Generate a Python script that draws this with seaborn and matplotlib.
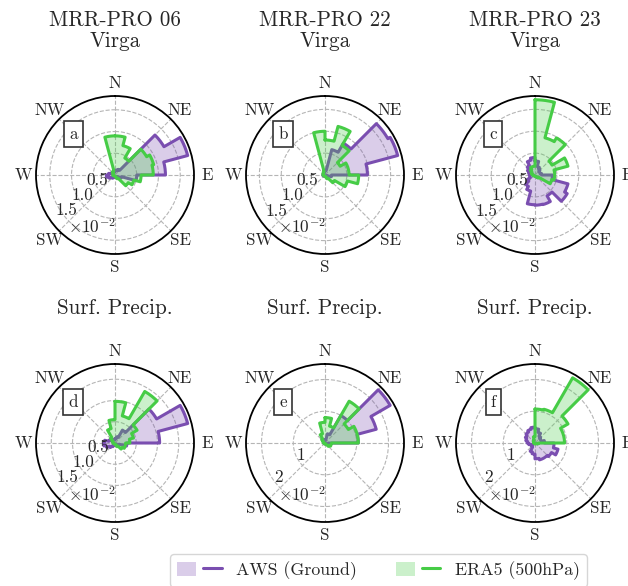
import numpy as np
import pandas as pd
import matplotlib
matplotlib.use("Agg")
import matplotlib.pyplot as plt
import seaborn as sns
from matplotlib.patches import Patch
from matplotlib.lines import Line2D
from matplotlib.legend_handler import HandlerTuple

# ---------------- data (frequency per direction bin, units of 1e-2) ----------------
bin_width_deg = 15  # 24 bins, first bin 0-15 deg (clockwise from N)
compass_labels = ["N", "NE", "E", "SE", "S", "SW", "W", "NW"]
panel_letters = ["a", "b", "c", "d", "e", "f"]
panel_titles = ["MRR-PRO 06\nVirga", "MRR-PRO 22\nVirga", "MRR-PRO 23\nVirga",
                "Surf. Precip.", "Surf. Precip.", "Surf. Precip."]
series_names = ["AWS (Ground)", "ERA5 (500hPa)"]

aws_a = [0.10, 0.12, 0.15, 1.30, 1.73, 1.16, 0.50, 0.15, 0.08, 0.05, 0.04, 0.04,
         0.05, 0.06, 0.08, 0.10, 0.15, 0.20, 0.15, 0.10, 0.08, 0.08, 0.08, 0.08]
era_a = [0.90, 0.70, 0.45, 0.84, 0.92, 0.88, 0.60, 0.45, 0.35, 0.10, 0.05, 0.03,
         0.03, 0.03, 0.03, 0.03, 0.03, 0.05, 0.05, 0.05, 0.05, 0.08, 0.10, 0.90]

aws_b = [0.10, 0.60, 0.84, 1.66, 1.72, 0.97, 0.15, 0.06, 0.04, 0.03, 0.03, 0.03,
         0.03, 0.03, 0.03, 0.03, 0.04, 0.05, 0.05, 0.05, 0.05, 0.05, 0.06, 0.08]
era_b = [0.80, 1.15, 0.78, 0.40, 0.55, 0.55, 0.77, 0.53, 0.25, 0.10, 0.05, 0.03,
         0.03, 0.03, 0.03, 0.03, 0.03, 0.03, 0.05, 0.05, 0.05, 0.06, 0.08, 1.00]

aws_c = [0.32, 0.20, 0.16, 0.12, 0.12, 0.15, 0.40, 0.78, 0.85, 0.55, 0.70, 0.69,
         0.68, 0.38, 0.30, 0.20, 0.12, 0.12, 0.13, 0.15, 0.20, 0.25, 0.35, 0.40]
era_c = [1.72, 0.88, 0.98, 0.45, 0.78, 0.45, 0.45, 0.40, 0.10, 0.05, 0.03, 0.03,
         0.03, 0.03, 0.03, 0.03, 0.03, 0.05, 0.05, 0.08, 0.10, 0.15, 0.20, 0.20]

aws_d = [0.10, 0.15, 0.35, 1.13, 1.77, 1.05, 0.28, 0.10, 0.05, 0.03, 0.03, 0.03,
         0.03, 0.05, 0.10, 0.15, 0.22, 0.27, 0.25, 0.15, 0.10, 0.08, 0.08, 0.08]
era_d = [0.98, 0.66, 1.40, 0.60, 0.45, 0.35, 0.25, 0.25, 0.20, 0.10, 0.05, 0.03,
         0.03, 0.03, 0.03, 0.03, 0.03, 0.03, 0.05, 0.05, 0.08, 0.15, 0.35, 0.55]

aws_e = [0.10, 0.30, 1.00, 2.37, 1.67, 1.05, 0.10, 0.05, 0.03, 0.03, 0.03, 0.03,
         0.03, 0.03, 0.03, 0.03, 0.03, 0.03, 0.05, 0.05, 0.05, 0.05, 0.05, 0.08]
era_e = [0.80, 0.55, 1.52, 0.85, 1.05, 1.05, 0.20, 0.20, 0.15, 0.05, 0.03, 0.03,
         0.03, 0.03, 0.03, 0.03, 0.03, 0.03, 0.05, 0.05, 0.08, 0.15, 0.30, 0.65]

aws_f = [0.45, 0.35, 0.25, 0.20, 0.20, 0.30, 0.60, 0.75, 0.60, 0.55, 0.55, 0.50,
         0.35, 0.30, 0.15, 0.10, 0.15, 0.20, 0.25, 0.30, 0.35, 0.40, 0.45, 0.50]
era_f = [1.07, 1.10, 2.37, 1.20, 0.93, 0.93, 0.10, 0.05, 0.03, 0.03, 0.03, 0.03,
         0.03, 0.03, 0.03, 0.03, 0.03, 0.03, 0.03, 0.05, 0.05, 0.08, 0.10, 0.20]

aws_all = [aws_a, aws_b, aws_c, aws_d, aws_e, aws_f]
era_all = [era_a, era_b, era_c, era_d, era_e, era_f]

rticks_small = [0.5, 1.0, 1.5]
rticklabels_small = ["0.5", "1.0", "1.5"]
rticks_large = [1, 2]
rticklabels_large = ["1", "2"]
offset_label = r"$\times10^{-2}$"
rlabel_angle_deg = 225

# ---------------- style ----------------
sns.set_theme(style="white")
plt.rcParams["font.family"] = ["cmr10", "DejaVu Serif"]
plt.rcParams["mathtext.fontset"] = "cm"
plt.rcParams["axes.unicode_minus"] = False
plt.rcParams["axes.formatter.use_mathtext"] = True

c_aws = "#7a4eb0"
c_era = "#46cc46"
fill_alpha = 0.28
lw = 2.2
fs_tick = 12.3
fs_title = 15.2

W, H = 628, 586
fig = plt.figure(figsize=(W / 100, H / 100), dpi=100)

centers_x = [115, 325, 535]
centers_y = [175, 443]
R = 79


def step_outline(values):
    edges = np.deg2rad(np.arange(0, 360 + bin_width_deg, bin_width_deg))
    th, rr = [], []
    for i, v in enumerate(values):
        t = np.linspace(edges[i], edges[i + 1], 12)
        th.extend(t)
        rr.extend([v] * len(t))
    th.append(edges[-1])
    rr.append(values[0])
    return np.array(th), np.array(rr)


for k in range(6):
    row, col = divmod(k, 3)
    cx, cy = centers_x[col], centers_y[row]
    ax = fig.add_axes([(cx - R) / W, 1 - (cy + R) / H, 2 * R / W, 2 * R / H],
                      projection="polar")
    ax.set_theta_zero_location("N")
    ax.set_theta_direction(-1)

    for vals, col_, z in [(aws_all[k], c_aws, 2), (era_all[k], c_era, 3)]:
        th, rr = step_outline(vals)
        df = pd.DataFrame({"theta": th, "r": rr})
        ax.fill(df["theta"], df["r"], color=col_, alpha=fill_alpha, lw=0, zorder=z)
        sns.lineplot(data=df, x="theta", y="r", sort=False, estimator=None,
                     ax=ax, color=col_, linewidth=lw, zorder=z + 0.5)

    ax.set_xlabel("")
    ax.set_ylabel("")
    vmax = max(max(aws_all[k]), max(era_all[k]))
    ax.set_ylim(0, vmax * 1.05)
    if k < 4:
        rt, rl = rticks_small, rticklabels_small
    else:
        rt, rl = rticks_large, rticklabels_large
    ax.set_yticks(rt)
    ax.set_yticklabels([])
    for rv, lab in zip(rt, rl):
        ax.annotate(lab, xy=(np.deg2rad(rlabel_angle_deg), rv), xytext=(-1.5, 2),
                    textcoords="offset points", ha="center", va="bottom",
                    fontsize=fs_tick, zorder=6)

    ax.set_xticks(np.deg2rad(np.arange(0, 360, 45)))
    ax.set_xticklabels(compass_labels, fontsize=fs_tick)
    ax.tick_params(axis="x", pad=-3.6)
    ax.grid(True, linestyle="--", color="#b5b5b5", linewidth=0.8)
    ax.spines["polar"].set_color("black")
    ax.spines["polar"].set_linewidth(1.3)

    ax.text(0.354, 0.171, offset_label, transform=ax.transAxes, ha="center",
            va="center", fontsize=fs_tick, zorder=6)
    ax.text(0.236, 0.758, panel_letters[k], transform=ax.transAxes, ha="center",
            va="center", fontsize=fs_tick, zorder=6,
            bbox=dict(boxstyle="square,pad=0.3", fc="white", ec="#333333", lw=1.2))

    if row == 0:
        ax.set_title(panel_titles[k], y=(cy + R - 31) / (2 * R), pad=0,
                     va="center", fontsize=fs_title, linespacing=1.1)
    else:
        ax.set_title(panel_titles[k], y=(cy + R - 308) / (2 * R), pad=0,
                     va="center", fontsize=fs_title)

handles = [
    (Patch(facecolor=c_aws, alpha=fill_alpha, lw=0), Line2D([], [], color=c_aws, lw=lw)),
    (Patch(facecolor=c_era, alpha=fill_alpha, lw=0), Line2D([], [], color=c_era, lw=lw)),
]
fig.legend(handles, series_names, handler_map={tuple: HandlerTuple(ndivide=None)},
           loc="upper center", bbox_to_anchor=(378.5 / W, 1 - 554 / H), ncol=2,
           fontsize=12.8, handlelength=2.5, handleheight=0.8, columnspacing=2.2,
           handletextpad=0.8, frameon=True, edgecolor="#cccccc", borderaxespad=0,
           fancybox=True)

fig.savefig("out.png", dpi=100)
